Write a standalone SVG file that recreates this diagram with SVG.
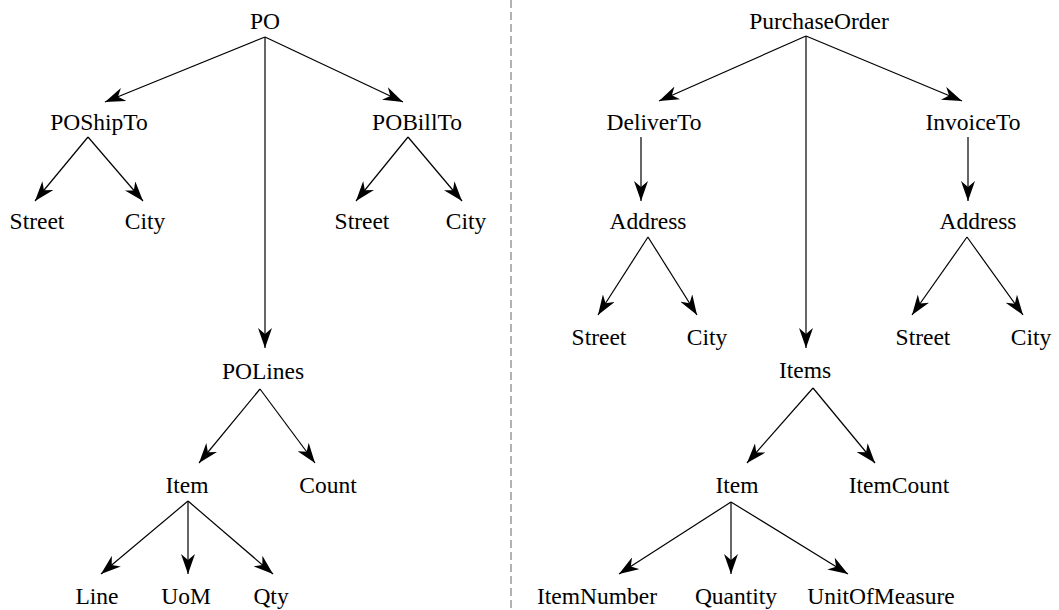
<svg xmlns="http://www.w3.org/2000/svg" width="1059" height="610" viewBox="0 0 1059 610">
<style>
  text { font-family: "Liberation Serif", "Times New Roman", serif; font-size: 23.5px; fill: #000; text-anchor: middle; }
  .c line { stroke: #000; stroke-width: 1.2; marker-end: url(#ah); }
  .sep { stroke: #666; stroke-width: 1; stroke-dasharray: 8 4; }
</style>
<defs>
  <marker id="ah" viewBox="0 0 20 14" refX="20" refY="7" markerWidth="20" markerHeight="14" markerUnits="userSpaceOnUse" orient="auto">
    <path d="M0,0 L20,7 L0,14 L6,7 Z" fill="#000"/>
  </marker>
</defs>
<rect width="1059" height="610" fill="#fff"/>
<line class="sep" x1="511" y1="0" x2="511" y2="610"/>
<g id="connectors" class="c">
  <line x1="265" y1="37" x2="105" y2="102"/>
  <line x1="265" y1="37" x2="403" y2="102"/>
  <line x1="265" y1="37" x2="265" y2="348"/>
  <line x1="88" y1="137" x2="35" y2="201"/>
  <line x1="88" y1="137" x2="143" y2="201"/>
  <line x1="408" y1="137" x2="356" y2="201"/>
  <line x1="408" y1="137" x2="462" y2="201"/>
  <line x1="260" y1="389" x2="199" y2="463"/>
  <line x1="260" y1="389" x2="315" y2="463"/>
  <line x1="188" y1="501" x2="101" y2="574"/>
  <line x1="188" y1="501" x2="188" y2="574"/>
  <line x1="188" y1="501" x2="273" y2="574"/>
  <line x1="806" y1="36" x2="659" y2="101"/>
  <line x1="806" y1="36" x2="962" y2="101"/>
  <line x1="806" y1="36" x2="806" y2="348"/>
  <line x1="641" y1="137" x2="641" y2="201"/>
  <line x1="968" y1="137" x2="968" y2="201"/>
  <line x1="648" y1="237" x2="598" y2="315"/>
  <line x1="648" y1="237" x2="697" y2="315"/>
  <line x1="967" y1="237" x2="912" y2="315"/>
  <line x1="967" y1="237" x2="1023" y2="315"/>
  <line x1="813" y1="388" x2="747" y2="463"/>
  <line x1="813" y1="388" x2="875" y2="463"/>
  <line x1="731" y1="502" x2="619" y2="574"/>
  <line x1="731" y1="502" x2="731" y2="574"/>
  <line x1="731" y1="502" x2="848" y2="574"/>
</g>
<g id="n-po"><text x="265" y="29">PO</text></g>
<g id="n-poshipto"><text x="99" y="130">POShipTo</text></g>
<g id="n-pobillto"><text x="417" y="130">POBillTo</text></g>
<g id="n-street1"><text x="37" y="229">Street</text></g>
<g id="n-city1"><text x="145" y="229">City</text></g>
<g id="n-street2"><text x="362" y="229">Street</text></g>
<g id="n-city2"><text x="466" y="229">City</text></g>
<g id="n-polines"><text x="263" y="379">POLines</text></g>
<g id="n-item1"><text x="187" y="493">Item</text></g>
<g id="n-count"><text x="328" y="493">Count</text></g>
<g id="n-line"><text x="97" y="604">Line</text></g>
<g id="n-uom"><text x="186" y="604">UoM</text></g>
<g id="n-qty"><text x="271" y="604">Qty</text></g>
<g id="n-purchaseorder"><text x="819" y="29">PurchaseOrder</text></g>
<g id="n-deliverto"><text x="654" y="130">DeliverTo</text></g>
<g id="n-invoiceto"><text x="973" y="130">InvoiceTo</text></g>
<g id="n-address1"><text x="648" y="229">Address</text></g>
<g id="n-address2"><text x="978" y="229">Address</text></g>
<g id="n-street3"><text x="599" y="345">Street</text></g>
<g id="n-city3"><text x="707" y="345">City</text></g>
<g id="n-street4"><text x="923" y="345">Street</text></g>
<g id="n-city4"><text x="1031" y="345">City</text></g>
<g id="n-items"><text x="805" y="378">Items</text></g>
<g id="n-item2"><text x="737" y="493">Item</text></g>
<g id="n-itemcount"><text x="899" y="493">ItemCount</text></g>
<g id="n-itemnumber"><text x="597" y="604">ItemNumber</text></g>
<g id="n-quantity"><text x="736" y="604">Quantity</text></g>
<g id="n-unitofmeasure"><text x="881" y="604">UnitOfMeasure</text></g>
</svg>
